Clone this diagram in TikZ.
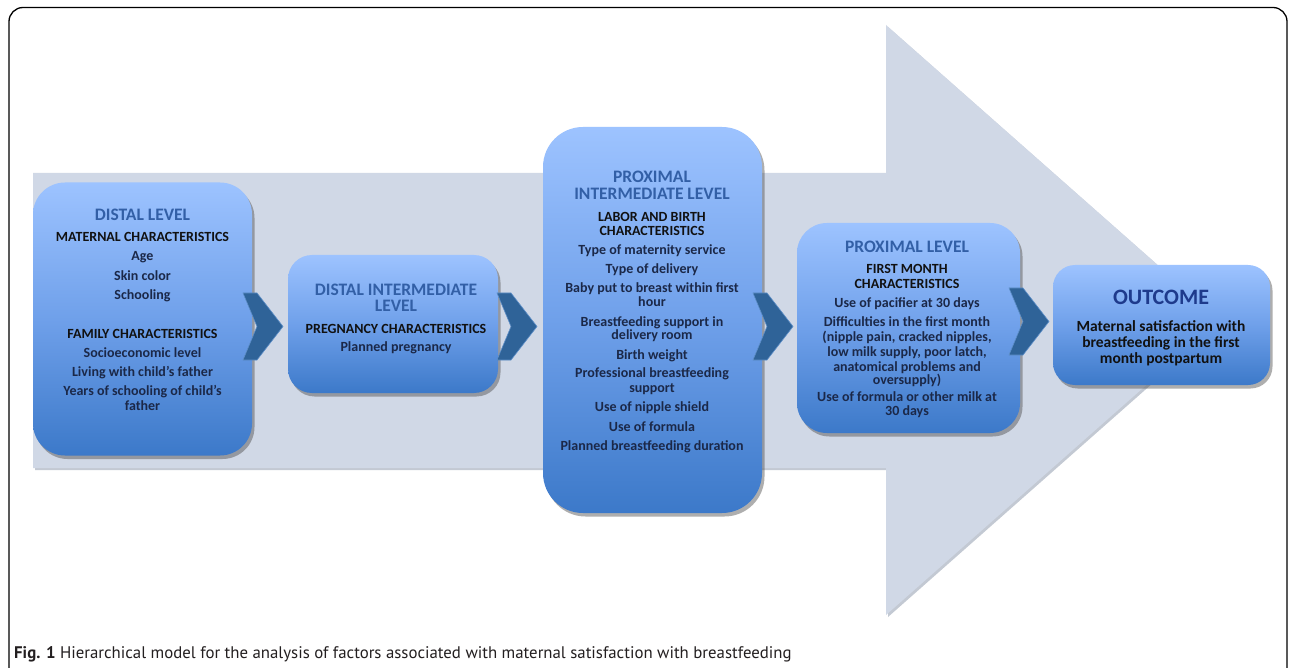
\documentclass[tikz,border=0pt]{standalone}
\usepackage{fontspec}
\setmainfont{Carlito}
\newfontfamily\capfont{PT Sans}
\usetikzlibrary{shadows}
\definecolor{arrowfill}{HTML}{D0D8E6}
\definecolor{arrowshade}{HTML}{B4BCC8}
\definecolor{boxtop}{HTML}{9DC3FF}
\definecolor{boxmid}{HTML}{6FA0EA}
\definecolor{boxbot}{HTML}{3C79C9}
\definecolor{chev}{HTML}{2F6398}
\definecolor{chevedge}{HTML}{5E8FC8}
\definecolor{headblue}{HTML}{325FA6}
\definecolor{outnavy}{HTML}{1E3A8C}
\definecolor{bodytxt}{HTML}{1B2848}
\definecolor{cattxt}{HTML}{111111}
\definecolor{captxt}{HTML}{231F20}
\tikzset{
  lvlbox/.style={draw=none, inner sep=0pt, top color=boxtop, bottom color=boxbot, middle color=boxmid,
    drop shadow={shadow xshift=2.5pt, shadow yshift=-3.5pt, opacity=0.45, fill=black!70}},
  hd/.style={font=\fontsize{17.5}{18}\selectfont\bfseries, text=headblue, anchor=base, inner sep=0pt},
  bd/.style={font=\fontsize{14}{15}\selectfont\bfseries, anchor=base, inner sep=0pt},
  chevron/.style={fill=chev, draw=chevedge, line width=0.6pt, line join=miter},
}
\begin{document}
\begin{tikzpicture}[x=1pt,y=-1pt]
\useasboundingbox (0,0) rectangle (1290,668);
\fill[white] (0,0) rectangle (1290,668);
% frame
\begin{scope}
\clip (0,0) rectangle (1290,668);
\draw[line width=1.3pt, rounded corners=14pt] (9,7.5) rectangle (1287,720);
\end{scope}
% big arrow
\fill[arrowshade, opacity=0.8] (35,175) -- (888,175) -- (888,27) -- (1222,322) -- (888,617) -- (888,470) -- (35,470) -- cycle;
\fill[arrowfill] (33,173) -- (886,173) -- (886,25) -- (1220,320) -- (886,615) -- (886,468) -- (33,468) -- cycle;

% boxes
\node[lvlbox, rounded corners=32pt, minimum width=219pt, minimum height=273pt] (b1) at (142.5,319) {};
\node[lvlbox, rounded corners=24pt, minimum width=210pt, minimum height=138pt] (b2) at (393,324) {};
\node[lvlbox, rounded corners=40pt, minimum width=219pt, minimum height=386pt] (b3) at (652.5,320) {};
\node[lvlbox, rounded corners=30pt, minimum width=223pt, minimum height=210pt] (b4) at (908.5,328) {};
\node[lvlbox, rounded corners=22pt, minimum width=217pt, minimum height=120pt] (b5) at (1161.5,325) {};

% chevrons
\foreach \L/\T [count=\i] in {243/293, 497/293, 753/293, 1009/288} {
  \path[chevron] (\L,\T) -- ++(14,0) -- ++(26,33.5) -- ++(-26,33.5) -- ++(-14,0) -- ++(14,-33.5) -- cycle;
}

% box 1
\node[hd] (h1) at (142.5,221) {DISTAL LEVEL};
\foreach \t/\y/\c [count=\i] in {MATERNAL CHARACTERISTICS/242/cattxt, Age/261/bodytxt, Skin color/280/bodytxt,
  Schooling/299/bodytxt, FAMILY CHARACTERISTICS/338/cattxt, Socioeconomic level/357/bodytxt,
  Living with child’s father/376/bodytxt, Years of schooling of child’s/395/bodytxt, father/410/bodytxt}
  \node[bd, text=\c] (a\i) at (142.5,\y) {\t};

% box 2
\node[hd] (h2a) at (396,295) {DISTAL INTERMEDIATE};
\node[hd] (h2b) at (396,312) {LEVEL};
\node[bd, text=cattxt] (c1) at (396,333) {PREGNANCY CHARACTERISTICS};
\node[bd, text=bodytxt] (c2) at (396,351) {Planned pregnancy};

% box 3
\node[hd] (h3a) at (652,183) {PROXIMAL};
\node[hd] (h3b) at (652,200) {INTERMEDIATE LEVEL};
\foreach \t/\y/\c [count=\i] in {LABOR AND BIRTH/222/cattxt, CHARACTERISTICS/236/cattxt,
  Type of maternity service/255/bodytxt, Type of delivery/274/bodytxt,
  Baby put to breast within first/293/bodytxt, hour/306/bodytxt,
  Breastfeeding support in/326/bodytxt, delivery room/339/bodytxt, Birth weight/359/bodytxt,
  Professional breastfeeding/377/bodytxt, support/392/bodytxt, Use of nipple shield/411/bodytxt,
  Use of formula/431/bodytxt, Planned breastfeeding duration/450/bodytxt}
  \node[bd, text=\c] (d\i) at (652,\y) {\t};

% box 4
\node[hd] (h4) at (907,253) {PROXIMAL LEVEL};
\foreach \t/\y/\c [count=\i] in {FIRST MONTH/274/cattxt, CHARACTERISTICS/289/cattxt,
  Use of pacifier at 30 days/307/bodytxt, Difficulties in the first month/326/bodytxt,
  {(nipple pain, cracked nipples,}/341/bodytxt, {low milk supply, poor latch,}/356/bodytxt,
  anatomical problems and/371/bodytxt, oversupply)/384/bodytxt,
  Use of formula or other milk at/401/bodytxt, 30 days/415/bodytxt}
  \node[bd, text=\c] (e\i) at (907,\y) {\t};

% box 5
\node[hd, text=outnavy, font=\fontsize{22}{24}\selectfont\bfseries] (h5) at (1161,305) {OUTCOME};
\foreach \t/\y [count=\i] in {Maternal satisfaction with/331, breastfeeding in the first/347, month postpartum/363}
  \node[bd, text=cattxt, font=\fontsize{15.5}{16}\selectfont\bfseries] (f\i) at (1161,\y) {\t};

% caption
\node[anchor=base west, inner sep=0pt, text=captxt, font=\capfont\fontsize{16.8}{18}\selectfont] (cap) at (14,658)
  {\textbf{Fig. 1} Hierarchical model for the analysis of factors associated with maternal satisfaction with breastfeeding};
\end{tikzpicture}
\end{document}
